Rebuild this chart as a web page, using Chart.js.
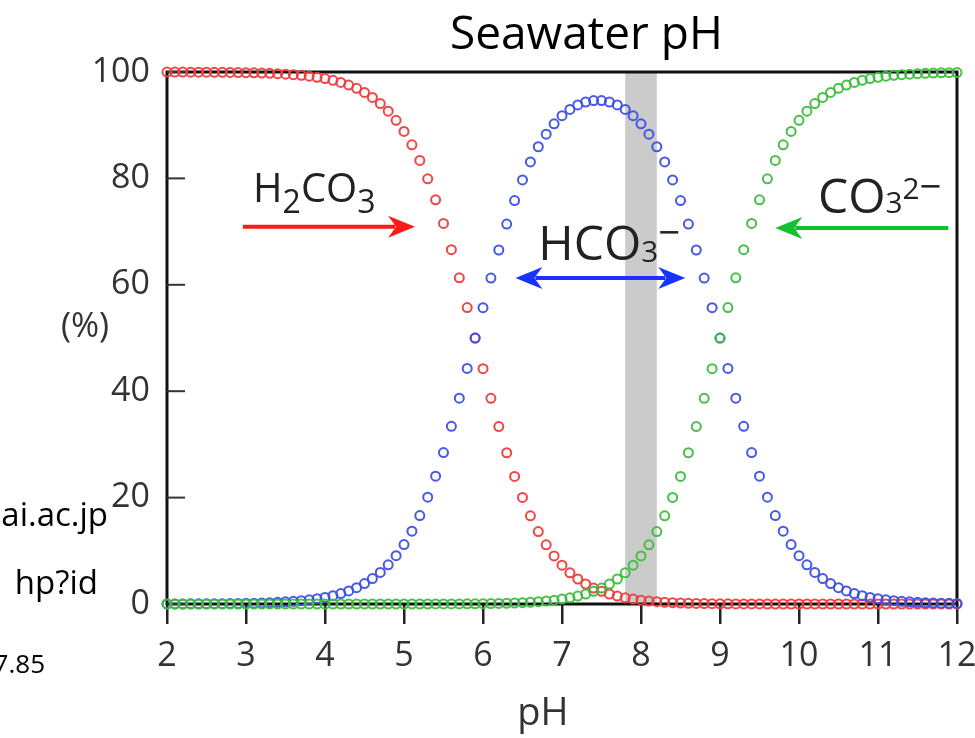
<!DOCTYPE html>
<html><head><meta charset="utf-8">
<script src="https://cdn.jsdelivr.net/npm/chart.js@4"></script>
<style>
html,body{margin:0;padding:0;background:#fff;}
#wrap{position:relative;width:975px;height:738px;overflow:hidden;background:#fff;}
canvas{position:absolute;left:0;top:0;}
.t{position:absolute;font-family:"Open Sans",sans-serif;color:#000;white-space:nowrap;line-height:1;z-index:2;}
</style></head><body>
<div id="wrap">
<canvas id="c" width="975" height="738"></canvas>
<div class="t" style="left:450px;top:8px;font-size:46px;">Seawater pH</div>
<div class="t" style="right:867px;top:497px;font-size:33px;">ai.ac.jp</div>
<div class="t" style="right:877px;top:565px;font-size:33px;">hp?id</div>
<div class="t" style="right:930px;top:650px;font-size:26px;">7.85</div>
</div>
<script>
// pH values (x)
const ph = [2.0,2.1,2.2,2.3,2.4,2.5,2.6,2.7,2.8,2.9,
3.0,3.1,3.2,3.3,3.4,3.5,3.6,3.7,3.8,3.9,
4.0,4.1,4.2,4.3,4.4,4.5,4.6,4.7,4.8,4.9,
5.0,5.1,5.2,5.3,5.4,5.5,5.6,5.7,5.8,5.9,
6.0,6.1,6.2,6.3,6.4,6.5,6.6,6.7,6.8,6.9,
7.0,7.1,7.2,7.3,7.4,7.5,7.6,7.7,7.8,7.9,
8.0,8.1,8.2,8.3,8.4,8.5,8.6,8.7,8.8,8.9,
9.0,9.1,9.2,9.3,9.4,9.5,9.6,9.7,9.8,9.9,
10.0,10.1,10.2,10.3,10.4,10.5,10.6,10.7,10.8,10.9,
11.0,11.1,11.2,11.3,11.4,11.5,11.6,11.7,11.8,11.9,12.0];

// H2CO3 (%)
const h2co3 = [99.99,99.98,99.98,99.97,99.97,99.96,99.95,99.94,99.92,99.90,
99.87,99.84,99.80,99.75,99.68,99.60,99.50,99.37,99.21,99.01,
98.76,98.44,98.04,97.55,96.93,96.17,95.23,94.07,92.64,90.91,
88.82,86.32,83.37,79.92,75.97,71.53,66.61,61.32,55.72,49.98,
44.24,38.66,33.35,28.43,23.98,20.03,16.58,13.62,11.12,9.03,
7.29,5.87,4.70,3.76,2.99,2.38,1.88,1.49,1.17,0.92,
0.72,0.56,0.43,0.33,0.25,0.19,0.14,0.11,0.08,0.06,
0.04,0.03,0.02,0.01,0.01,0.01,0,0,0,0,
0,0,0,0,0,0,0,0,0,0,
0,0,0,0,0,0,0,0,0,0,0];

// HCO3- (%)
const hco3 = [0.01,0.02,0.02,0.03,0.03,0.04,0.05,0.06,0.08,0.10,
0.13,0.16,0.20,0.25,0.32,0.40,0.50,0.63,0.79,0.99,
1.24,1.56,1.96,2.45,3.07,3.83,4.77,5.93,7.36,9.09,
11.18,13.68,16.63,20.08,24.03,28.47,33.39,38.68,44.27,49.98,
55.70,61.26,66.54,71.42,75.83,79.72,83.09,85.95,88.32,90.26,
91.79,92.96,93.81,94.36,94.63,94.63,94.36,93.81,92.96,91.79,
90.26,88.32,85.95,83.09,79.72,75.83,71.42,66.54,61.26,55.70,
49.98,44.27,38.68,33.39,28.47,24.03,20.08,16.63,13.68,11.18,
9.09,7.36,5.93,4.77,3.83,3.07,2.45,1.96,1.56,1.24,
0.99,0.79,0.63,0.50,0.40,0.32,0.25,0.20,0.16,0.13,0.10];

// CO3 2- (%)
const co3 = [0,0,0,0,0,0,0,0,0,0,
0,0,0,0,0,0,0,0,0,0,
0,0,0,0,0,0,0,0,0,0,
0,0,0,0,0.01,0.01,0.01,0.02,0.03,0.04,
0.06,0.08,0.11,0.14,0.19,0.25,0.33,0.43,0.56,0.72,
0.92,1.17,1.49,1.88,2.38,2.99,3.76,4.70,5.87,7.29,
9.03,11.12,13.62,16.58,20.03,23.98,28.43,33.35,38.66,44.24,
49.98,55.72,61.32,66.61,71.53,75.97,79.92,83.37,86.32,88.82,
90.91,92.64,94.07,95.23,96.17,96.93,97.55,98.04,98.44,98.76,
99.01,99.21,99.37,99.50,99.60,99.68,99.75,99.80,99.84,99.87,99.90];

const xTicks = [2,3,4,5,6,7,8,9,10,11,12];
const yTicks = [0,20,40,60,80,100];
const seawaterBand = [7.8, 8.2];

const pts = arr => arr.map((v,i)=>({x:ph[i], y:v}));

const FONT = '"Open Sans", sans-serif';
const TXT = '#333';

// annotations in data units
const labels = [
  {x:3.09, y:75.6, size:40, color:'#222', parts:[{t:'H'},{t:'2',s:0.8,dy:0.27},{t:'C'},{t:'O'},{t:'3',s:0.8,dy:0.27}]},
  {x:6.70, y:64.7, size:48, color:'#222', parts:[{t:'H'},{t:'C'},{t:'O'},{t:'3',s:0.62,dy:0.04},{t:'\u2212',s:0.8,dy:-0.28}]},
  {x:10.24, y:73.5, size:48, color:'#222', parts:[{t:'C'},{t:'O'},{t:'3',s:0.62,dy:0},{t:'2',s:0.62,dy:-0.3},{t:'\u2212',s:0.8,dy:-0.28}]}
];
const arrows = [
  {from:2.96, to:5.14, y:70.9, color:'#ff1a1a', both:false},
  {from:6.41, to:8.56, y:61.3, color:'#1633ff', both:true},
  {from:11.89, to:9.70, y:70.7, color:'#12c12e', both:false}
];

function head(ctx, x, y, dir){
  ctx.beginPath();
  ctx.moveTo(x, y);
  ctx.lineTo(x - dir*27, y - 11);
  ctx.lineTo(x - dir*19, y);
  ctx.lineTo(x - dir*27, y + 11);
  ctx.closePath();
  ctx.fill();
}

const deco = {
  id:'deco',
  beforeDatasetsDraw(chart){
    const {ctx, chartArea:a, scales:{x,y}} = chart;
    ctx.save();
    ctx.fillStyle = '#cbcbcb';
    const x0 = x.getPixelForValue(seawaterBand[0]), x1 = x.getPixelForValue(seawaterBand[1]);
    ctx.fillRect(x0, a.top, x1-x0, a.bottom-a.top);
    ctx.strokeStyle = '#111';
    ctx.lineWidth = 3;
    ctx.strokeRect(a.left, a.top, a.right-a.left, a.bottom-a.top);
    ctx.lineWidth = 2;
    ctx.strokeStyle = '#333';
    yTicks.forEach(v=>{
      const py = y.getPixelForValue(v);
      ctx.beginPath(); ctx.moveTo(a.left, py); ctx.lineTo(a.left+18, py); ctx.stroke();
    });
    ctx.restore();
  },
  afterDatasetsDraw(chart){
    const {ctx, chartArea:a, scales:{x,y}} = chart;
    ctx.save();
    arrows.forEach(ar=>{
      const px0 = x.getPixelForValue(ar.from), px1 = x.getPixelForValue(ar.to), py = y.getPixelForValue(ar.y);
      const dir = px1 > px0 ? 1 : -1;
      ctx.strokeStyle = ar.color; ctx.fillStyle = ar.color; ctx.lineWidth = 4;
      ctx.beginPath();
      ctx.moveTo(ar.both ? px0 + dir*20 : px0, py);
      ctx.lineTo(px1 - dir*20, py);
      ctx.stroke();
      head(ctx, px1, py, dir);
      if (ar.both) head(ctx, px0, py, -dir);
    });
    ctx.textAlign = 'left'; ctx.textBaseline = 'alphabetic';
    labels.forEach(l=>{
      let cx = x.getPixelForValue(l.x);
      const by = y.getPixelForValue(l.y);
      ctx.fillStyle = l.color;
      l.parts.forEach(p=>{
        const s = l.size*(p.s||1);
        ctx.font = s + 'px ' + FONT;
        ctx.fillText(p.t, cx, by + (p.dy||0)*l.size);
        cx += ctx.measureText(p.t).width;
      });
    });
    ctx.fillStyle = TXT;
    ctx.font = '34px ' + FONT;
    ctx.textAlign = 'center'; ctx.textBaseline = 'middle';
    ctx.fillText('(%)', 85, y.getPixelForValue(52.1));
    ctx.font = '38px ' + FONT;
    ctx.textBaseline = 'alphabetic';
    ctx.fillText('pH', 543, 725);
    ctx.restore();
  }
};

const ds = (label, arr, color) => ({
  label, data: pts(arr), showLine:false,
  pointRadius:4.5, pointHoverRadius:4.5, pointBorderWidth:2,
  pointBorderColor:color, pointBackgroundColor:'rgba(0,0,0,0)',
  borderColor:color, backgroundColor:'rgba(0,0,0,0)', clip:false
});

new Chart(document.getElementById('c'), {
  type:'scatter',
  data:{ datasets:[
    ds('CO3 2-', co3, 'rgba(60,190,60,0.95)'),
    ds('HCO3-', hco3, 'rgba(60,80,230,0.95)'),
    ds('H2CO3', h2co3, 'rgba(240,60,60,0.95)')
  ]},
  options:{
    responsive:false, animation:false, devicePixelRatio:1,
    layout:{padding:{left:0, top:72, right:18, bottom:0}},
    plugins:{legend:{display:false}, tooltip:{enabled:false}, title:{display:false}},
    scales:{
      x:{type:'linear', min:2, max:12,
        afterBuildTicks(s){ s.ticks = xTicks.map(v=>({value:v})); },
        afterFit(s){ s.height = 134; s.paddingLeft = 0; s.paddingRight = 0; },
        ticks:{font:{family:FONT, size:34}, color:TXT, padding:12, maxRotation:0, autoSkip:false, callback:v=>String(v)},
        grid:{display:true, drawOnChartArea:false, drawTicks:true, tickLength:20, lineWidth:2.5, color:'#222'},
        border:{display:false}
      },
      y:{type:'linear', min:0, max:100,
        afterBuildTicks(s){ s.ticks = yTicks.map(v=>({value:v})); },
        afterFit(s){ s.width = 167; s.paddingTop = 0; s.paddingBottom = 0; },
        ticks:{font:{family:FONT, size:34}, color:TXT, padding:17, callback:v=>String(v)},
        grid:{display:false, drawTicks:false},
        border:{display:false}
      }
    }
  },
  plugins:[deco]
});
</script>
</body></html>
